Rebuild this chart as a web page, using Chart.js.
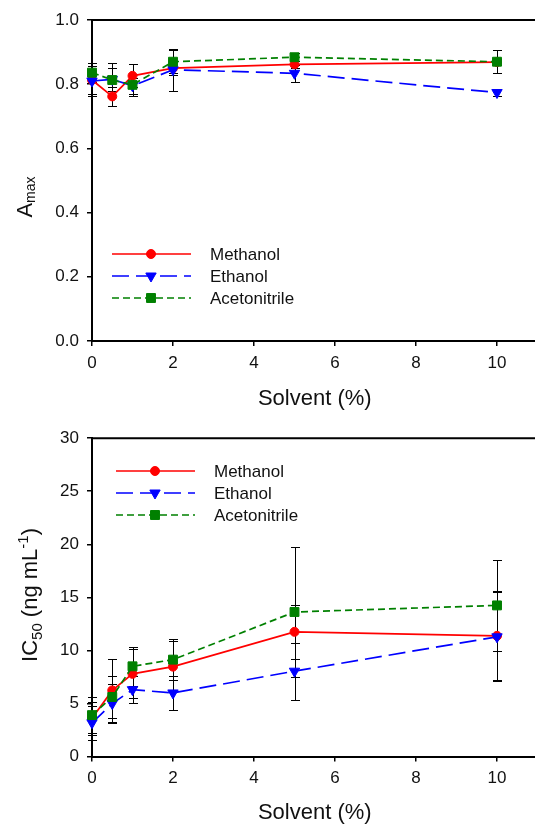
<!DOCTYPE html>
<html><head><meta charset="utf-8">
<script src="https://cdn.jsdelivr.net/npm/chart.js@4.4.1/dist/chart.umd.min.js"></script>
<style>
html,body{margin:0;padding:0;background:#fff;overflow:hidden;width:535px;height:825px;position:relative}
canvas{position:absolute;left:0}
#c1{top:0}
#c2{top:420px}
</style></head><body>
<canvas id="c1" width="540" height="420"></canvas>
<canvas id="c2" width="540" height="405"></canvas>
<script>
// ---------------- data ----------------
const solvent = [0, 0.5, 1, 2, 5, 10];
const xTickValues = [0, 2, 4, 6, 8, 10];
const seriesNames = ['Methanol', 'Ethanol', 'Acetonitrile'];

const amaxMethanol        = [0.813, 0.762, 0.826, 0.850, 0.862, 0.869];
const amaxMethanolErr     = [0.045, 0.030, 0.036, 0.020, 0.010, 0.010];
const amaxEthanol         = [0.810, 0.815, 0.795, 0.845, 0.834, 0.774];
const amaxEthanolErr      = [0.046, 0.035, 0.025, 0.066, 0.026, 0.012];
const amaxAcetonitrile    = [0.836, 0.813, 0.798, 0.870, 0.884, 0.870];
const amaxAcetonitrileErr = [0.030, 0.053, 0.035, 0.035, 0.012, 0.035];
const amaxTicks = [0, 0.2, 0.4, 0.6, 0.8, 1.0];

const icMethanol        = [3.60, 6.23, 7.79, 8.47, 11.75, 11.37];
const icMethanolErr     = [1.55, 3.00, 2.30, 2.40, 2.55, 4.20];
const icEthanol         = [3.18, 4.99, 6.30, 5.99, 8.04, 11.28];
const icEthanolErr      = [1.60, 1.87, 1.30, 1.60, 2.70, 4.20];
const icAcetonitrile    = [3.90, 5.61, 8.50, 9.13, 13.62, 14.24];
const icAcetonitrileErr = [1.70, 1.95, 1.85, 1.90, 6.10, 4.30];
const icTicks = [0, 5, 10, 15, 20, 25, 30];

// ---------------- styles ----------------
const FONT = '"Liberation Sans", Arial, Helvetica, sans-serif';
const seriesStyle = [
  {color: '#ff0000', dash: [], shape: 'circle', r: 4.5, order: 2},
  {color: '#0000ff', dash: [17, 7], shape: 'triangle', r: 6, order: 1},
  {color: '#008000', dash: [7, 4], shape: 'rect', r: 6.3, order: 0}
];

function pts(ys) { return solvent.map((x, i) => ({x: x, y: ys[i]})); }

function makeDatasets(valArrays, errArrays) {
  return valArrays.map((vals, k) => {
    const s = seriesStyle[k];
    return {
      label: seriesNames[k],
      data: pts(vals),
      errors: errArrays[k],
      showLine: true,
      borderColor: s.color,
      backgroundColor: s.color,
      borderWidth: 1.7,
      borderDash: s.dash,
      pointStyle: s.shape,
      pointRotation: s.shape === 'triangle' ? 180 : 0,
      pointRadius: s.r,
      pointBorderWidth: 1,
      pointBackgroundColor: s.color,
      pointBorderColor: s.color,
      tension: 0,
      clip: false,
      order: s.order
    };
  });
}

function drawMarker(ctx, shape, r, x, y, color) {
  ctx.save();
  ctx.fillStyle = color; ctx.strokeStyle = color; ctx.lineWidth = 1; ctx.setLineDash([]);
  ctx.beginPath();
  if (shape === 'circle') {
    ctx.arc(x, y, r, 0, Math.PI * 2);
  } else if (shape === 'triangle') {
    ctx.moveTo(x, y + r);
    ctx.lineTo(x - r * Math.sin(Math.PI / 3), y - r / 2);
    ctx.lineTo(x + r * Math.sin(Math.PI / 3), y - r / 2);
    ctx.closePath();
  } else {
    const h = r * Math.SQRT1_2;
    ctx.rect(x - h, y - h, 2 * h, 2 * h);
  }
  ctx.fill(); ctx.stroke();
  ctx.restore();
}

// ---------------- plugins ----------------
const errorBarPlugin = {
  id: 'errorBars',
  beforeDatasetsDraw(chart) {
    const ctx = chart.ctx, xs = chart.scales.x, ys = chart.scales.y;
    ctx.save();
    ctx.strokeStyle = '#000'; ctx.lineWidth = 1; ctx.setLineDash([]);
    chart.data.datasets.forEach(ds => {
      ds.data.forEach((p, i) => {
        const e = ds.errors[i];
        const px = Math.round(xs.getPixelForValue(p.x)) + 0.5;
        const y1 = Math.round(ys.getPixelForValue(p.y + e)) + 0.5;
        const y2 = Math.round(ys.getPixelForValue(p.y - e)) + 0.5;
        ctx.beginPath();
        ctx.moveTo(px, y1); ctx.lineTo(px, y2);
        ctx.moveTo(px - 4.5, y1); ctx.lineTo(px + 4.5, y1);
        ctx.moveTo(px - 4.5, y2); ctx.lineTo(px + 4.5, y2);
        ctx.stroke();
      });
    });
    ctx.restore();
  }
};

const decorPlugin = {
  id: 'decor',
  afterDraw(chart, args, opts) {
    const ctx = chart.ctx, a = chart.chartArea;
    ctx.save();
    ctx.strokeStyle = '#000'; ctx.lineWidth = 2; ctx.setLineDash([]);
    ctx.beginPath();
    ctx.moveTo(a.left - 1, a.top); ctx.lineTo(a.right, a.top); ctx.lineTo(a.right, a.bottom);
    ctx.stroke();

    const L = opts.legend;
    chart.data.datasets.forEach((ds, k) => {
      const s = seriesStyle[k];
      const y = L.rows[k];
      ctx.save();
      ctx.strokeStyle = s.color; ctx.lineWidth = 1.7; ctx.setLineDash(s.dash);
      ctx.beginPath(); ctx.moveTo(L.x0, y); ctx.lineTo(L.x1, y); ctx.stroke();
      ctx.restore();
      drawMarker(ctx, s.shape, s.r, L.xm, y, s.color);
      ctx.fillStyle = '#111';
      ctx.font = '17px ' + FONT;
      ctx.textAlign = 'left'; ctx.textBaseline = 'middle';
      ctx.fillText(ds.label, L.xt, y + 1);
    });

    ctx.fillStyle = '#111';
    ctx.font = '22px ' + FONT;
    ctx.textAlign = 'center'; ctx.textBaseline = 'middle';
    ctx.fillText(opts.xTitle, (a.left + a.right) / 2, opts.xTitleY);

    const parts = opts.yTitle;
    ctx.textAlign = 'left'; ctx.textBaseline = 'alphabetic';
    let total = 0;
    parts.forEach(p => { ctx.font = p.size + 'px ' + FONT; total += ctx.measureText(p.t).width; });
    ctx.translate(opts.yTitleX, opts.yTitleCY + total / 2);
    ctx.rotate(-Math.PI / 2);
    let cx = 0;
    parts.forEach(p => {
      ctx.font = p.size + 'px ' + FONT;
      ctx.fillText(p.t, cx, p.dy || 0);
      cx += ctx.measureText(p.t).width;
    });
    ctx.restore();
  }
};

function makeChart(canvasId, datasets, yMin, yMax, yTicks, fmt, layoutTop, xAxisH, extra) {
  return new Chart(document.getElementById(canvasId), {
    type: 'scatter',
    data: {datasets: datasets},
    plugins: [errorBarPlugin, decorPlugin],
    options: {
      responsive: false,
      animation: false,
      events: [],
      layout: {autoPadding: false, padding: {left: 0, right: 2.5, top: layoutTop, bottom: 0}},
      plugins: {
        legend: {display: false},
        tooltip: {enabled: false},
        decor: extra
      },
      scales: {
        x: {
          type: 'linear', min: 0, max: 11,
          afterBuildTicks(scale) { scale.ticks = xTickValues.map(v => ({value: v})); },
          afterFit(scale) { scale.height = xAxisH; },
          grid: {display: true, drawOnChartArea: false, drawTicks: true, tickLength: 5, color: '#000', lineWidth: 1.5},
          border: {display: true, color: '#000', width: 2},
          ticks: {font: {family: FONT, size: 17}, color: '#111', padding: 7, maxRotation: 0, autoSkip: false}
        },
        y: {
          type: 'linear', min: yMin, max: yMax,
          afterBuildTicks(scale) { scale.ticks = yTicks.map(v => ({value: v})); },
          afterFit(scale) { scale.width = 92; },
          grid: {display: true, drawOnChartArea: false, drawTicks: true, tickLength: 5, color: '#000', lineWidth: 1.5},
          border: {display: true, color: '#000', width: 2},
          ticks: {font: {family: FONT, size: 17}, color: '#111', padding: 8, callback: fmt, autoSkip: false}
        }
      }
    }
  });
}

makeChart('c1',
  makeDatasets([amaxMethanol, amaxEthanol, amaxAcetonitrile], [amaxMethanolErr, amaxEthanolErr, amaxAcetonitrileErr]),
  0, 1, amaxTicks, v => Number(v).toFixed(1), 20, 79,
  {
    legend: {x0: 112, x1: 191, xm: 151, xt: 210, rows: [254, 276, 298]},
    xTitle: 'Solvent (%)', xTitleY: 399,
    yTitle: [{t: 'A', size: 22}, {t: 'max', size: 14, dy: 3}],
    yTitleX: 32, yTitleCY: 197
  });

makeChart('c2',
  makeDatasets([icMethanol, icEthanol, icAcetonitrile], [icMethanolErr, icEthanolErr, icAcetonitrileErr]),
  0, 30, icTicks, v => String(v), 15.5, 68.5,
  {
    legend: {x0: 116, x1: 195, xm: 155, xt: 214, rows: [51, 73, 95]},
    xTitle: 'Solvent (%)', xTitleY: 393,
    yTitle: [{t: 'IC', size: 22}, {t: '50', size: 15, dy: 5}, {t: ' (ng mL', size: 22}, {t: '-1', size: 15, dy: -9}, {t: ')', size: 22}],
    yTitleX: 36.5, yTitleCY: 175
  });
</script>
</body></html>
